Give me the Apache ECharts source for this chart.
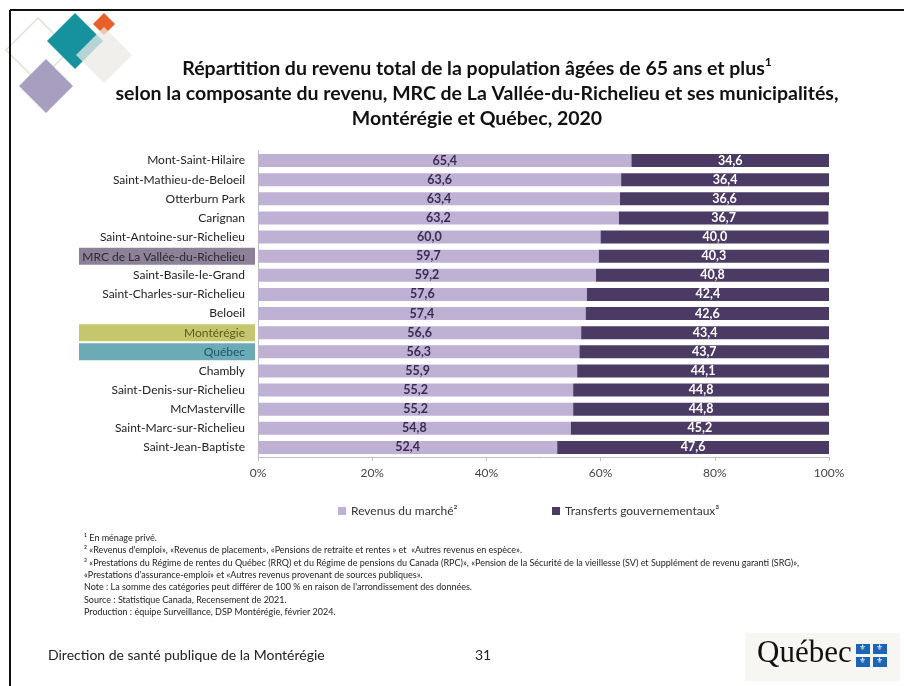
<!DOCTYPE html>
<html><head><meta charset="utf-8">
<script src="https://cdn.jsdelivr.net/npm/echarts@6/dist/echarts.min.js"></script>
<style>html,body{margin:0;padding:0;background:#fff}#c{width:904px;height:686px}</style>
</head><body><div id="c"></div>
<script>
const categories = ['Mont-Saint-Hilaire','Saint-Mathieu-de-Beloeil','Otterburn Park','Carignan','Saint-Antoine-sur-Richelieu','MRC de La Vallée-du-Richelieu','Saint-Basile-le-Grand','Saint-Charles-sur-Richelieu','Beloeil','Montérégie','Québec','Chambly','Saint-Denis-sur-Richelieu','McMasterville','Saint-Marc-sur-Richelieu','Saint-Jean-Baptiste'];
const marketValues = [65.4,63.6,63.4,63.2,60.0,59.7,59.2,57.6,57.4,56.6,56.3,55.9,55.2,55.2,54.8,52.4];
const transferValues = [34.6,36.4,36.6,36.7,40.0,40.3,40.8,42.4,42.6,43.4,43.7,44.1,44.8,44.8,45.2,47.6];
const seriesNames = ['Revenus du marché²','Transferts gouvernementaux³'];
const xTicks = [0,20,40,60,80,100];

const FONT = 'Lato';
const fmt = v => v.toFixed(1).replace('.', ',');
const highlight = {'MRC de La Vallée-du-Richelieu':'m','Montérégie':'o','Québec':'q'};

const chart = echarts.init(document.getElementById('c'), null, {renderer:'canvas'});

function diamond(cx, cy, h) {
  return [[cx, cy-h],[cx+h, cy],[cx, cy+h],[cx-h, cy]];
}

const option = {
  backgroundColor:'#fff',
  animation:false,
  textStyle:{fontFamily:FONT},
  title:{
    left:472, top:51, textAlign:'center',
    text:'{a|Répartition du revenu total de la population âgées de 65 ans et plus}{s|1}\n{a|selon la composante du revenu, MRC de La Vallée-du-Richelieu et ses municipalités,}\n{a|Montérégie et Québec, 2020}',
    textStyle:{
      rich:{
        a:{fontFamily:FONT,fontWeight:'bold',fontSize:19.5,color:'#111',lineHeight:25},
        s:{fontFamily:FONT,fontWeight:'bold',fontSize:12,color:'#111',lineHeight:25,verticalAlign:'top'}
      }
    }
  },
  legend:[
    {left:333, top:500, itemWidth:8, itemHeight:8, icon:'rect', data:[seriesNames[0]],
     textStyle:{fontFamily:FONT,fontSize:12,color:'#333'}},
    {left:547, top:500, itemWidth:8, itemHeight:8, icon:'rect', data:[seriesNames[1]],
     textStyle:{fontFamily:FONT,fontSize:12,color:'#333'}}
  ],
  grid:{left:258, right:75, top:151, bottom:229, containLabel:false},
  xAxis:{
    type:'value', min:0, max:100, interval:20,
    axisLine:{show:true,lineStyle:{color:'#bfbfbf'}},
    axisTick:{show:true,length:4,lineStyle:{color:'#bfbfbf'}},
    splitLine:{show:false},
    axisLabel:{margin:10,fontFamily:FONT,fontSize:12,color:'#444',formatter:v=>v+'%'}
  },
  yAxis:{
    type:'category', inverse:true, data:categories,
    axisLine:{show:true,lineStyle:{color:'#bfbfbf'}},
    axisTick:{show:false},
    axisLabel:{
      margin:3,
      formatter:v=>{const k = highlight[v]||'n'; return '{'+k+'|'+v+'}';},
      rich:{
        n:{fontFamily:FONT,fontSize:12,color:'#222',padding:[0,10,0,0]},
        m:{fontFamily:FONT,fontSize:12,color:'#2a2a2a',backgroundColor:'#8d8199',width:166,align:'right',padding:[3,10,2,0]},
        o:{fontFamily:FONT,fontSize:12,color:'#5d5b1f',backgroundColor:'#c5c76c',width:166,align:'right',padding:[3,10,2,0]},
        q:{fontFamily:FONT,fontSize:12,color:'#1c5766',backgroundColor:'#6aabb6',width:166,align:'right',padding:[3,10,2,0]}
      }
    }
  },
  series:[
    {name:seriesNames[0], type:'bar', stack:'t', data:marketValues, barWidth:13,
     itemStyle:{color:'#bfb1d3'},
     label:{show:true,position:'inside',fontFamily:FONT,fontWeight:'bold',fontSize:12.5,color:'#3b2b52',formatter:p=>fmt(p.value)}},
    {name:seriesNames[1], type:'bar', stack:'t', data:transferValues, barWidth:13,
     itemStyle:{color:'#4b3b64'},
     label:{show:true,position:'inside',fontFamily:FONT,fontWeight:'bold',fontSize:12.5,color:'#fff',formatter:p=>fmt(p.value)}}
  ],
  graphic:[
    {type:'line',shape:{x1:10,y1:10,x2:904,y2:10},style:{stroke:'#111',lineWidth:2},z:100},
    {type:'line',shape:{x1:10,y1:10,x2:10,y2:686},style:{stroke:'#111',lineWidth:2},z:100},
    {type:'polygon',shape:{points:diamond(38,50,32)},style:{fill:'none',stroke:'#dfe3d8',lineWidth:1.5},z:1},
    {type:'polygon',shape:{points:diamond(46,86,27)},style:{fill:'#a89ebf'},z:2},
    {type:'polygon',shape:{points:diamond(75,41,28)},style:{fill:'#16929f'},z:3},
    {type:'polygon',shape:{points:diamond(104,24,11)},style:{fill:'#e8612a'},z:4},
    {type:'polygon',shape:{points:diamond(104,55,28)},style:{fill:'rgba(236,233,230,0.75)'},z:5},
    {type:'text',left:84,top:532,style:{text:'¹ En ménage privé.\n² «Revenus d\'emploi», «Revenus de placement», «Pensions de retraite et rentes » et  «Autres revenus en espèce».\n³ «Prestations du Régime de rentes du Québec (RRQ) et du Régime de pensions du Canada (RPC)», «Pension de la Sécurité de la vieillesse (SV) et Supplément de revenu garanti (SRG)»,\n«Prestations d\'assurance-emploi» et «Autres revenus provenant de sources publiques».\nNote : La somme des catégories peut différer de 100 % en raison de l\'arrondissement des données.\nSource : Statistique Canada, Recensement de 2021.\nProduction : équipe Surveillance, DSP Montérégie, février 2024.',
      fontFamily:FONT,fontSize:9,lineHeight:12.3,fill:'#222'}},
    {type:'text',left:48,top:648,style:{text:'Direction de santé publique de la Montérégie',fontFamily:FONT,fontSize:14,fill:'#222'}},
    {type:'text',left:475,top:648,style:{text:'31',fontFamily:FONT,fontSize:14,fill:'#222'}},
    {type:'rect',shape:{x:745,y:633,width:155,height:48},style:{fill:'#f8f6f2'}},
    {type:'text',left:757,top:638,style:{text:'Québec',fontFamily:'Liberation Serif',fontSize:31,fill:'#111'}},
    {type:'rect',shape:{x:856,y:644,width:14,height:10},style:{fill:'#1e64b4'}},
    {type:'rect',shape:{x:873,y:644,width:14,height:10},style:{fill:'#1e64b4'}},
    {type:'rect',shape:{x:856,y:657,width:14,height:10},style:{fill:'#1e64b4'}},
    {type:'rect',shape:{x:873,y:657,width:14,height:10},style:{fill:'#1e64b4'}},
    {type:'text',left:859,top:644,style:{text:'⚜',fontSize:8,fill:'#fff'}},
    {type:'text',left:876,top:644,style:{text:'⚜',fontSize:8,fill:'#fff'}},
    {type:'text',left:859,top:657,style:{text:'⚜',fontSize:8,fill:'#fff'}},
    {type:'text',left:876,top:657,style:{text:'⚜',fontSize:8,fill:'#fff'}}
  ]
};
chart.setOption(option);
</script></body></html>
